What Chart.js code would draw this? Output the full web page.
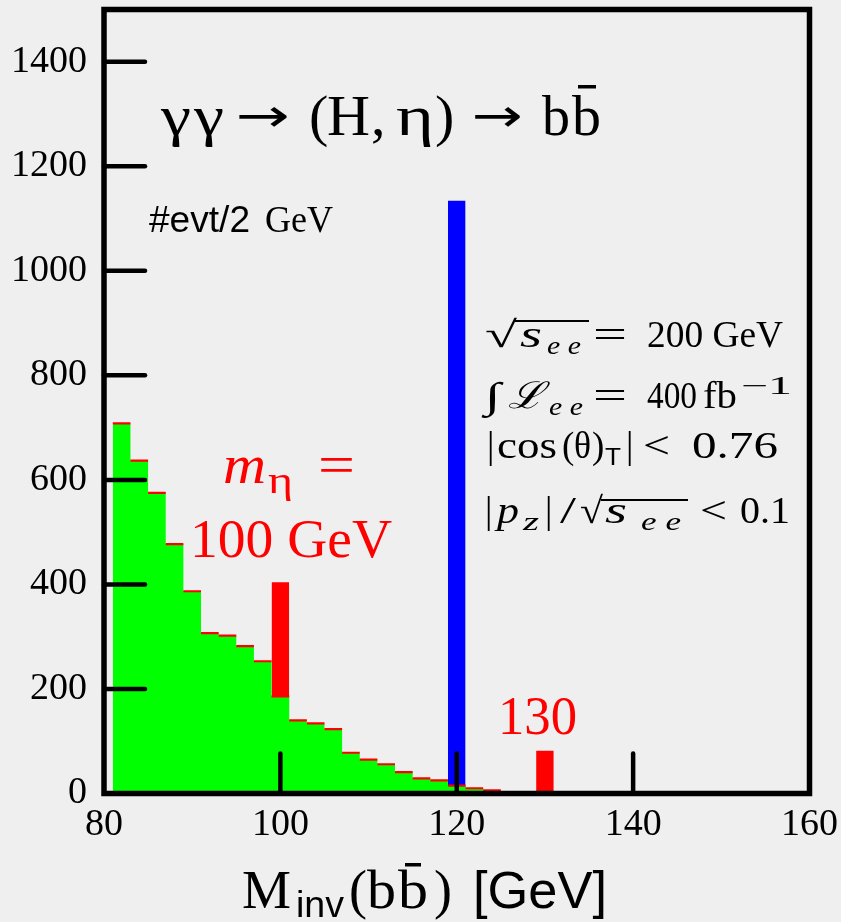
<!DOCTYPE html>
<html><head><meta charset="utf-8">
<script src="https://cdn.jsdelivr.net/npm/chart.js@4.4.1/dist/chart.umd.min.js"></script>
<style>html,body{margin:0;padding:0;background:#efefef;}canvas{display:block;}</style>
</head><body>
<canvas id="c" width="841" height="922"></canvas>
<script>
// b-bbar invariant mass spectrum, 2 GeV bins starting at 81 GeV
const binLow = 81;
const binWidth = 2;
const backgroundCounts = [708, 637, 575, 477, 387, 307, 302, 282, 253, 186, 140, 134, 123, 78, 65, 56, 41, 29, 25, 15, 10, 6];
// signal peaks (bin centre, total height incl. background)
const etaMasses = [100, 130];
const etaTotals = [404, 82];
const higgsMasses = [120];
const higgsTotals = [1134];
const xTickValues = [80, 100, 120, 140, 160];
const yTickValues = [0, 200, 400, 600, 800, 1000, 1200, 1400];

const SERIF = "'Liberation Serif', 'DejaVu Serif', serif";
const SANS = "'Liberation Sans', 'DejaVu Sans', sans-serif";

function histogramPoints(low, width, counts) {
  const pts = [];
  counts.forEach((c, i) => {
    pts.push({x: low + i * width, y: c});
    pts.push({x: low + (i + 1) * width, y: c});
  });
  return pts;
}
function peakDatasets(masses, totals, color) {
  // each peak fills one bin centred on its mass
  return masses.map((m, i) => ({
    data: [{x: m - binWidth / 2, y: totals[i]}, {x: m + binWidth / 2, y: totals[i]}],
    backgroundColor: color, borderColor: 'rgba(0,0,0,0)', borderWidth: 1,
    fill: 'origin', pointRadius: 0, order: 3
  }));
}

// draws a row of text pieces; a piece may be placed at x, stretched to width w,
// carry an accent bar (over) or open/close a square-root overline
function drawRuns(ctx, x, y, runs, color) {
  let cx = x, root = null;
  ctx.textAlign = 'left';
  ctx.textBaseline = 'alphabetic';
  ctx.fillStyle = color;
  for (const r of runs) {
    if (r.x !== undefined) cx = r.x;
    ctx.font = r.font;
    const nat = ctx.measureText(r.t).width;
    const w = r.w || nat;
    ctx.save();
    ctx.translate(cx, y + (r.dy || 0));
    ctx.scale(w / nat, 1);
    ctx.fillText(r.t, 0, 0);
    ctx.restore();
    if (r.over) ctx.fillRect(r.over.x, y + r.over.y, r.over.w, r.over.h);
    if (r.rootStart) root = {x: cx + w - 2, y: y + r.rootStart.y, h: r.rootStart.h};
    if (r.rootEnd && root) { ctx.fillRect(root.x, root.y, r.rootEnd - root.x, root.h); root = null; }
    cx += w;
  }
}

const decor = {
  id: 'decor',
  beforeDraw(chart) {
    const ctx = chart.ctx;
    ctx.save();
    ctx.fillStyle = '#efefef';
    ctx.fillRect(0, 0, chart.width, chart.height);
    ctx.restore();
  },
  afterDatasetsDraw(chart) {
    const {ctx, chartArea: a, scales} = chart;
    ctx.save();
    // tick marks pointing into the frame
    ctx.strokeStyle = '#000';
    ctx.lineWidth = 4.5;
    ctx.lineCap = 'round';
    scales.y.ticks.forEach(t => {
      if (t.value <= scales.y.min || t.value >= scales.y.max) return;
      const py = scales.y.getPixelForValue(t.value);
      ctx.beginPath(); ctx.moveTo(a.left, py); ctx.lineTo(a.left + 41, py); ctx.stroke();
    });
    scales.x.ticks.forEach(t => {
      if (t.value <= scales.x.min || t.value >= scales.x.max) return;
      const px = scales.x.getPixelForValue(t.value);
      ctx.beginPath(); ctx.moveTo(px, a.bottom); ctx.lineTo(px, a.bottom - 40); ctx.stroke();
    });
    // frame
    ctx.lineCap = 'butt';
    ctx.lineJoin = 'miter';
    ctx.lineWidth = 5.5;
    ctx.strokeRect(a.left, a.top, a.right - a.left, a.bottom - a.top);

    // process
    const T = '58px ' + SERIF;
    const A = '46px ' + "'DejaVu Sans', sans-serif";
    drawRuns(ctx, 161, 135, [
      {t: 'γ', font: T, w: 30},
      {t: 'γ', font: T, x: 194, w: 30},
      {t: '→', font: A, x: 236, w: 54, dy: -4},
      {t: '(', font: T, x: 309},
      {t: 'H', font: T, x: 327, w: 43},
      {t: ',', font: T, x: 371},
      {t: 'η', font: T, x: 396, w: 38},
      {t: ')', font: T, x: 435},
      {t: '→', font: A, x: 472, w: 51, dy: -4},
      {t: 'b', font: T, x: 542, w: 28},
      {t: 'b', font: T, x: 572, w: 29, over: {x: 578, y: -50, w: 18, h: 3.5}}
    ], '#000');

    // y-axis unit
    drawRuns(ctx, 149, 232, [
      {t: '#evt/2', font: '37px ' + SANS, w: 101},
      {t: 'GeV', font: '37px ' + SERIF, x: 265, w: 68}
    ], '#000');

    // run conditions
    const p = '37px ' + SERIF, pi = 'italic 37px ' + SERIF, s = 'italic 25px ' + SERIF;
    drawRuns(ctx, 485, 347, [
      {t: '√', font: p, w: 32, rootStart: {y: -27, h: 2}},
      {t: 's', font: pi, x: 520, w: 22},
      {t: 'e e', font: s, x: 547, w: 34, dy: 7, rootEnd: 589},
      {t: '=', font: p, x: 593, w: 34},
      {t: '200 GeV', font: p, x: 647, w: 136}
    ], '#000');
    drawRuns(ctx, 485, 408, [
      {t: '∫', font: p, w: 16},
      {t: 'ℒ', font: pi, x: 508, w: 36},
      {t: 'e e', font: s, x: 549, w: 34, dy: 7},
      {t: '=', font: p, x: 593, w: 34},
      {t: '400', font: p, x: 647, w: 50},
      {t: 'fb', font: p, x: 703, w: 34},
      {t: '−1', font: '25px ' + SERIF, x: 741, w: 51, dy: -14}
    ], '#000');
    drawRuns(ctx, 487, 458, [
      {t: '|', font: p},
      {t: 'cos', font: p, x: 497, w: 60},
      {t: '(', font: p, x: 562},
      {t: 'θ', font: p, x: 574, w: 17},
      {t: ')', font: p, x: 592},
      {t: 'T', font: '24px ' + SANS, x: 605, w: 16, dy: 7},
      {t: '|', font: p, x: 626},
      {t: '<', font: p, x: 643, w: 27},
      {t: '0.76', font: p, x: 692, w: 86}
    ], '#000');
    drawRuns(ctx, 485, 523, [
      {t: '|', font: p},
      {t: 'p', font: pi, x: 497, w: 22},
      {t: 'z', font: s, x: 523, w: 16, dy: 7},
      {t: '|', font: p, x: 545},
      {t: '/', font: p, x: 560, w: 16},
      {t: '√', font: p, x: 580, w: 23, rootStart: {y: -24, h: 2}},
      {t: 's', font: pi, x: 605, w: 22},
      {t: 'e e', font: s, x: 641, w: 40, dy: 7, rootEnd: 688},
      {t: '<', font: p, x: 700, w: 27},
      {t: '0.1', font: p, x: 740, w: 50}
    ], '#000');

    // peak labels
    const red = '#ff0000';
    drawRuns(ctx, 223, 483, [
      {t: 'm', font: 'italic 55px ' + SERIF, w: 43},
      {t: 'η', font: '38px ' + SERIF, x: 268, w: 25, dy: 10},
      {t: '=', font: '55px ' + SERIF, x: 318, w: 37}
    ], red);
    drawRuns(ctx, 190, 557, [{t: '100 GeV', font: '55px ' + SERIF, w: 202}], red);
    drawRuns(ctx, 498, 734, [{t: '130', font: '55px ' + SERIF, w: 79}], red);

    // x-axis title
    const X = '54px ' + SERIF;
    drawRuns(ctx, 242, 908, [
      {t: 'M', font: X, w: 49},
      {t: 'inv', font: '36px ' + SANS, x: 296, w: 48, dy: 9},
      {t: '(', font: X, x: 349},
      {t: 'b', font: X, x: 367, w: 29},
      {t: 'b', font: X, x: 398, w: 30, over: {x: 405, y: -45, w: 16, h: 3.5}},
      {t: ')', font: X, x: 434},
      {t: '[GeV]', font: '52px ' + SANS, x: 473, w: 134}
    ], '#000');
    ctx.restore();
  }
};

const datasets = [
  {
    // bin contents (fill only)
    data: histogramPoints(binLow, binWidth, backgroundCounts),
    backgroundColor: '#00ff00',
    borderColor: 'rgba(0,0,0,0)',
    borderWidth: 1,
    fill: 'origin',
    pointRadius: 0,
    order: 1
  },
  {
    // red bin tops
    data: histogramPoints(binLow, binWidth, backgroundCounts),
    borderColor: '#ff0000',
    borderWidth: 2.2,
    fill: false,
    pointRadius: 0,
    order: 0,
    segment: {
      borderColor: c => (c.p0.parsed.x === c.p1.parsed.x ? 'rgba(0,0,0,0)' : '#ff0000')
    }
  },
  ...peakDatasets(higgsMasses, higgsTotals, '#0000ff'),
  ...peakDatasets(etaMasses, etaTotals, '#ff0000')
];

function noEdgePadding(sc) {
  sc.paddingTop = 0; sc.paddingBottom = 0; sc.paddingLeft = 0; sc.paddingRight = 0;
}

new Chart(document.getElementById('c'), {
  type: 'line',
  data: {datasets},
  options: {
    responsive: false,
    devicePixelRatio: 1,
    animation: false,
    layout: {padding: {top: 9.5, right: 31.5, left: 0, bottom: 0}},
    plugins: {legend: {display: false}, tooltip: {enabled: false}},
    elements: {line: {tension: 0}},
    scales: {
      x: {
        type: 'linear', min: 80, max: 160,
        afterBuildTicks: sc => { sc.ticks = xTickValues.map(v => ({value: v})); },
        afterFit: sc => { sc.height = 128.5; noEdgePadding(sc); },
        grid: {display: false, drawTicks: false},
        border: {display: false},
        ticks: {color: '#000', padding: 9, font: {family: SERIF, size: 38}, maxRotation: 0,
                callback: v => String(v)}
      },
      y: {
        type: 'linear', min: 0, max: 1500,
        afterBuildTicks: sc => { sc.ticks = yTickValues.map(v => ({value: v})); },
        afterFit: sc => { sc.width = 104; noEdgePadding(sc); },
        grid: {display: false, drawTicks: false},
        border: {display: false},
        ticks: {color: '#000', padding: 17, font: {family: SERIF, size: 38},
                callback: v => String(v)}
      }
    }
  },
  plugins: [decor]
});
</script>
</body></html>
